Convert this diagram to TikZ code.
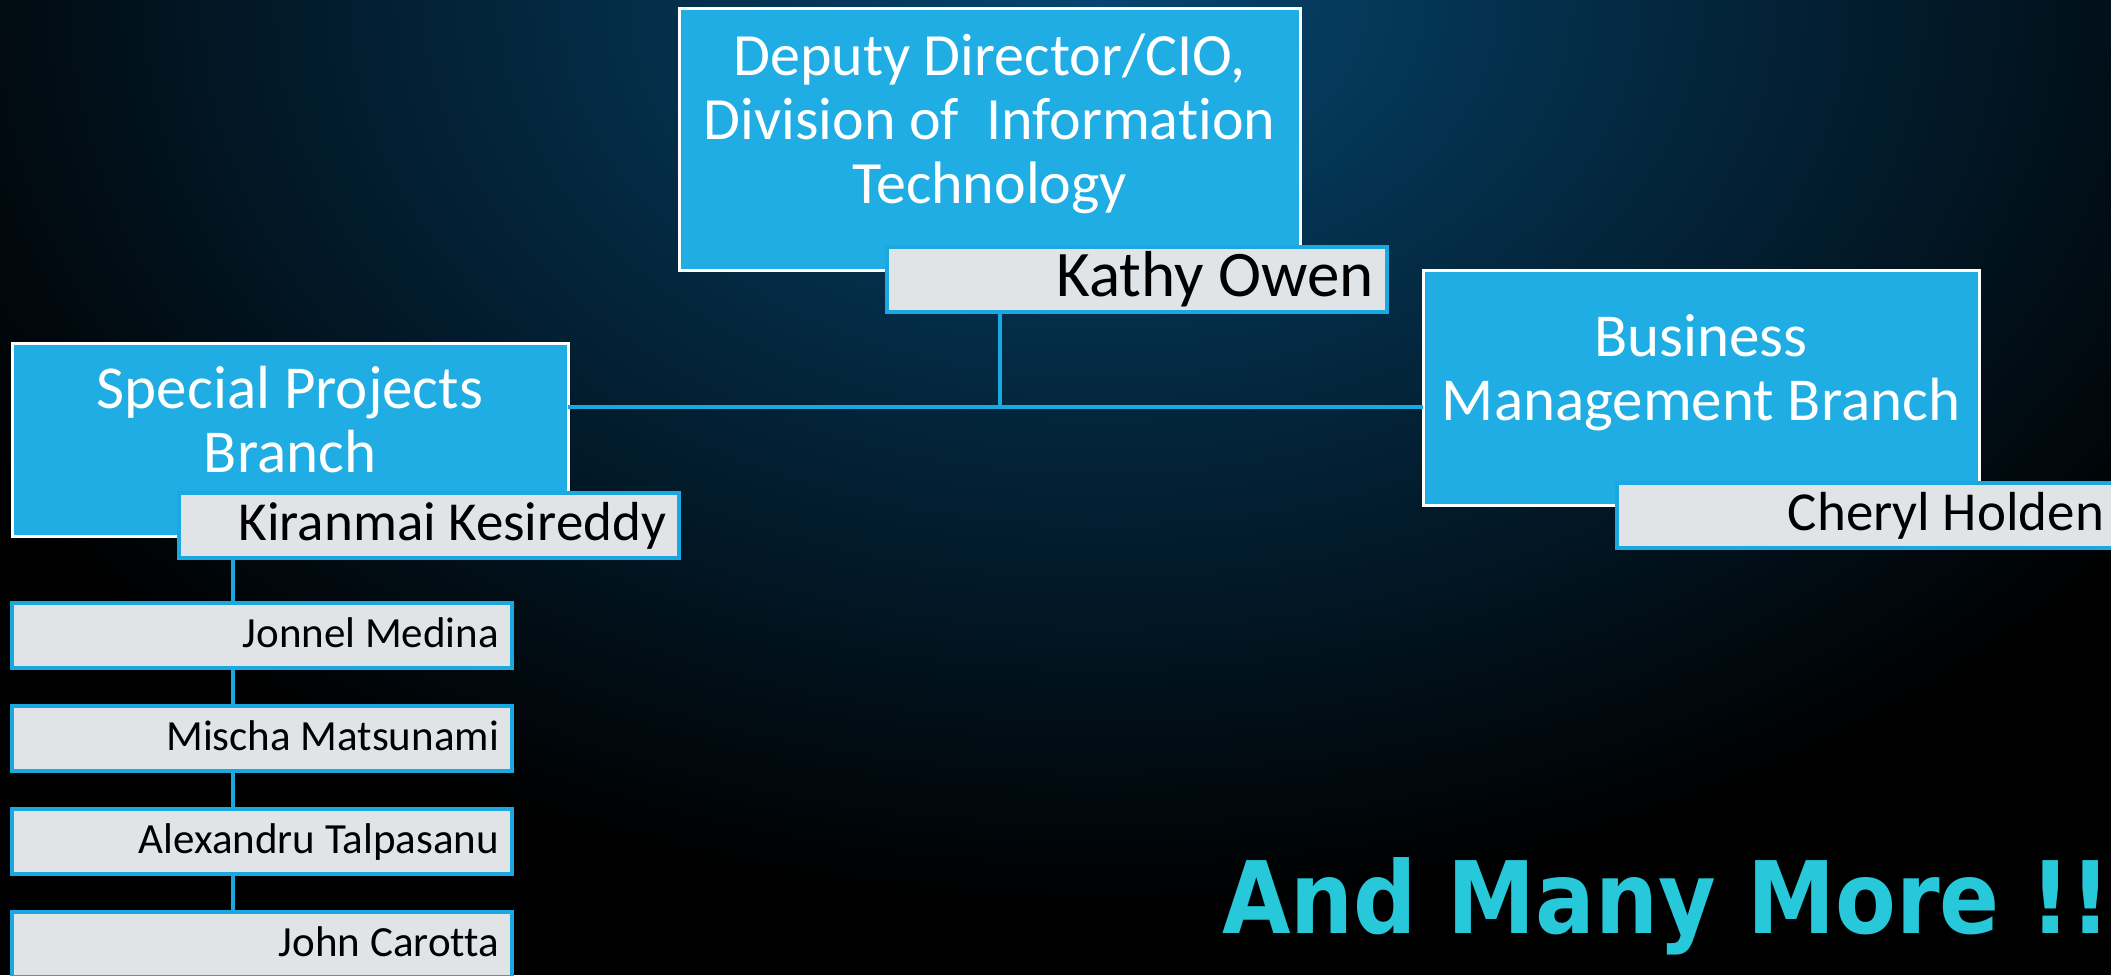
\documentclass[tikz,border=0pt]{standalone}
\usepackage{fontspec}
\setmainfont{Carlito}[Ligatures=NoCommon]
\newfontfamily\morefont{DejaVu Sans}[FakeStretch=0.885]
\usepackage{xcolor}
\usetikzlibrary{positioning, calc}

\definecolor{unitblue}{RGB}{31,173,227}
\definecolor{namegray}{RGB}{225,228,231}
\definecolor{linkblue}{RGB}{27,168,224}
\definecolor{morecyan}{RGB}{38,200,218}
\definecolor{bgglow}{RGB}{6,70,112}

\begin{document}
\begin{tikzpicture}[
        x=1pt, y=-1pt,
        unit/.style={rectangle, draw=white, line width=3pt, fill=unitblue, anchor=north west, minimum width=556pt, inner sep=0pt, outer sep=0pt},
        unittext/.style={text=white, align=center, inner sep=0pt, font=\fontsize{61}{64}\selectfont},
        person/.style={rectangle, draw=linkblue, line width=4pt, fill=namegray, text=black, align=flush right, inner xsep=13pt, inner ysep=0pt, outer sep=0pt, text width=474pt, minimum height=65pt, font=\fontsize{55}{60}\selectfont},
        staff/.style={person, font=\fontsize{43}{48}\selectfont, text height=30pt, text depth=6pt},
        link/.style={draw=linkblue, line width=3.5pt}
    ]

    % Background glow
    \useasboundingbox (0,0) rectangle (2111,975);
    \clip (0,0) rectangle (2111,975);
    \fill[black] (0,0) rectangle (2111,975);
    \shade[inner color=bgglow, outer color=black] (1100,0) ellipse [x radius=1300pt, y radius=910pt];

    % Director
    \node (cio) [unit, minimum width=621pt, minimum height=262pt,
        label={[unittext, font=\fontsize{60}{64}\selectfont, yshift=15pt]center:{Deputy Director/CIO,\\Division of~ Information\\Technology}}] at (679,8) {};
    \node (kathy) [person, anchor=north west, font=\fontsize{65}{70}\selectfont] at ($(cio.south west)+(208,-23)$) {Kathy Owen};

    % Branches
    \node (spb) [unit, minimum height=193pt,
        label={[unittext, yshift=20pt]center:{Special Projects\\Branch}}] at (12,343) {};
    \node (kiran) [person, anchor=north west] at ($(spb.south west)+(167,-43)$) {Kiranmai Kesireddy};

    \node (bmb) [unit, minimum height=235pt,
        label={[unittext, yshift=15pt]center:{Business\\Management Branch}}] at (1423,270) {};
    \node (cheryl) [person, anchor=north west] at ($(bmb.south west)+(194,-22)$) {Cheryl Holden};

    % Staff
    \node (jonnel) [staff, anchor=north west] at ($(spb.south west)+(0,67)$) {Jonnel Medina};
    \node (mischa) [staff, below=38pt of jonnel] {Mischa Matsunami};
    \node (alex) [staff, below=38pt of mischa] {Alexandru Talpasanu};
    \node (john) [staff, below=38pt of alex] {John Carotta};

    % Connectors
    \coordinate (hub) at (1000,407);
    \coordinate (spine) at (233,0);
    \draw[link] (hub |- kathy.south) -- (hub);
    \draw[link] (spb.east |- hub) -- (bmb.west |- hub);
    \foreach \head/\tail in {kiran/jonnel, jonnel/mischa, mischa/alex, alex/john}
        \draw[link] (spine |- \head.south) -- (spine |- \tail.north);

    % Tagline
    \node (more) [anchor=base west, inner sep=0pt, text=morecyan, font={\morefont\bfseries\fontsize{100}{110}\selectfont}] at (1222,933) {And Many More !!};

\end{tikzpicture}
\end{document}
